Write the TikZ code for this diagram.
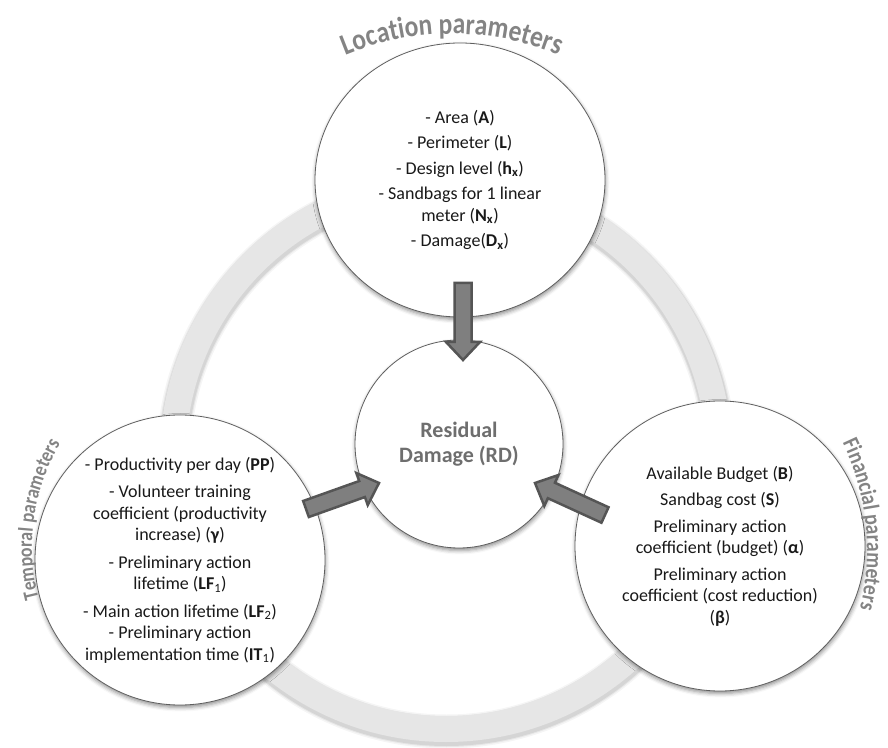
\documentclass[tikz,border=0pt]{standalone}
\usepackage{fontspec}
\setmainfont{Carlito}
\newfontfamily\locfam[FakeStretch=0.85]{Carlito}
\usetikzlibrary{calc,decorations.text,shadows.blur,shapes.geometric}
\definecolor{titlegray}{RGB}{132,132,132}
\definecolor{centergray}{RGB}{110,110,110}
\definecolor{ringgray}{RGB}{230,230,230}
\definecolor{edgegray}{RGB}{95,95,95}
\definecolor{arrowfill}{RGB}{127,127,127}
\definecolor{arrowline}{RGB}{85,85,85}
\definecolor{textblack}{RGB}{25,25,25}
\newcommand\sbx{\textsubscript{\textbf{x}}}
\newcommand\blockarrow[2]{%
  \coordinate (hb) at ($(#2)!18pt!(#1)$);
  \filldraw[blockarrowstyle] ($(#1)!8.5pt!90:(#2)$) -- ($(hb)!8.5pt!90:(#2)$) -- ($(hb)!17pt!90:(#2)$) -- (#2)
    -- ($(hb)!17pt!-90:(#2)$) -- ($(hb)!8.5pt!-90:(#2)$) -- ($(#1)!8.5pt!-90:(#2)$) -- cycle;
}
\tikzset{
  bubble/.style={circle, draw=edgegray, line width=0.8pt, fill=white, align=center,
    text=textblack, font=\fontsize{18}{21.5}\selectfont, inner sep=0pt,
    blur shadow={shadow xshift=0.5pt, shadow yshift=-2.5pt, shadow blur radius=4pt, shadow opacity=45}},
  blockarrowstyle/.style={fill=arrowfill, draw=arrowline, line width=2.5pt, line join=miter},
  curvedtitle/.style 2 args={decorate, decoration={text along path, text align=center,
    text color=titlegray, text={|#1|#2}}},
}
\begin{document}
\begin{tikzpicture}[x=1pt,y=1pt]
\useasboundingbox (0,0) rectangle (888,747);
% ring
\coordinate (ringc) at (446,291);
\foreach \w/\o in {34/0.04,31/0.06,29/0.08}
  \draw[black, opacity=\o, line width=\w pt] ($(ringc)+(0.5,-2.5)$) circle[radius=273pt];
\draw[ringgray, line width=26pt] (ringc) circle[radius=273pt];
% circles
\node[bubble, ellipse, minimum width=290pt, minimum height=274pt] (loc) at (460,567) {%
  - Area (\textbf{A})\\[4pt]
  - Perimeter (\textbf{L})\\[4pt]
  - Design level (\textbf{h}\sbx)\\[4pt]
  - Sandbags for 1 linear\\
  meter (\textbf{N}\sbx)\\[4pt]
  - Damage(\textbf{D}\sbx)};
\node[bubble, minimum size=208pt, font=\fontsize{22}{25}\selectfont\bfseries, text=centergray] (rd) at (459,303) {Residual\\Damage (RD)};
\node[bubble, minimum size=290pt] (temp) at (180,187) {%
  - Productivity per day (\textbf{PP})\\[6pt]
  - Volunteer training\\
  coefficient (productivity\\
  increase) (\textbf{γ})\\[6pt]
  - Preliminary action\\
  lifetime (\textbf{LF}\textsubscript{1})\\[6pt]
  - Main action lifetime (\textbf{LF}\textsubscript{2})\\
  - Preliminary action\\
  implementation time (\textbf{IT}\textsubscript{1})};
\node[bubble, minimum size=290pt] (fin) at (720,201) {%
  Available Budget (\textbf{B})\\[5pt]
  Sandbag cost (\textbf{S})\\[5pt]
  Preliminary action\\
  coefficient (budget) (\textbf{α})\\[5pt]
  Preliminary action\\
  coefficient (cost reduction)\\
  (\textbf{β})};
% arrows
\coordinate (locTail) at (463,464);
\coordinate (rdTopTip) at (463,387);
\coordinate (tempTail) at (306,238);
\coordinate (rdLeftTip) at (379,264);
\coordinate (finTail) at (605,232);
\coordinate (rdRightTip) at (535,264);
\blockarrow{locTail}{rdTopTip}
\blockarrow{tempTail}{rdLeftTip}
\blockarrow{finTail}{rdRightTip}
% curved titles
\path[curvedtitle={\locfam\bfseries\fontsize{30}{30}\selectfont}{Location parameters}] (452,435) ++(140:278pt) arc[start angle=140, end angle=40, radius=278pt];
\path[curvedtitle={\locfam\bfseries\fontsize{21}{21}\selectfont}{Temporal parameters}] (235,200) ++(212:203pt) arc[start angle=212, end angle=132, radius=203pt];
\path[curvedtitle={\locfam\bfseries\fontsize{23}{23}\selectfont}{Financial parameters}] (620,197) ++(41:247pt) arc[start angle=41, end angle=-29, radius=247pt];
\end{tikzpicture}
\end{document}
